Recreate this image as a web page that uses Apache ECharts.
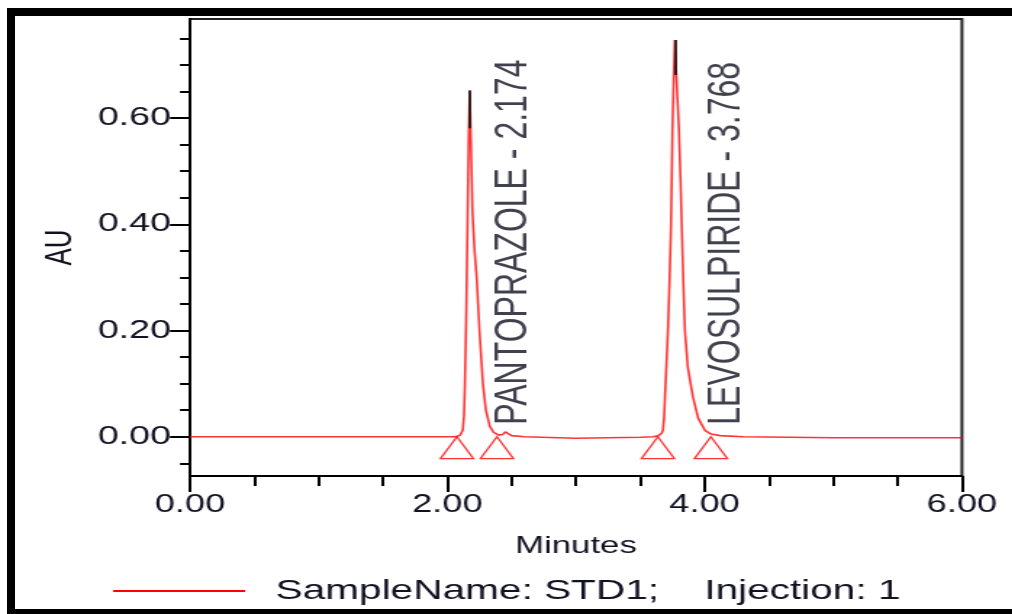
<!DOCTYPE html>
<html><head><meta charset="utf-8">
<script src="https://cdn.jsdelivr.net/npm/echarts@6/dist/echarts.min.js"></script>
<style>
html,body{margin:0;padding:0;background:#fff;width:1012px;height:614px;overflow:hidden;}
#wrap{position:absolute;left:0;top:0;width:1012px;height:614px;background:#fff;}
#chart{position:absolute;left:0;top:0;width:698px;height:614px;transform:scaleX(1.45);transform-origin:0 0;}
.bar{position:absolute;background:#000;}
</style></head><body>
<div id="wrap">
<div id="chart"></div>
<div class="bar" style="left:7px;top:8px;width:1005px;height:8px"></div>
<div class="bar" style="left:7px;top:8px;width:8px;height:606px"></div>
<div class="bar" style="left:7px;top:609px;width:1005px;height:5px"></div>
</div>
<script>
// ---- data ----
const timeMin = [0.00, 1.00, 2.00, 2.07, 2.10, 2.12, 2.13, 2.137, 2.148, 2.157, 2.166, 2.174,
  2.183, 2.196, 2.212, 2.228, 2.250, 2.277, 2.300, 2.330, 2.360, 2.400, 2.430, 2.450, 2.470, 2.500,
  2.600, 3.000, 3.500, 3.600, 3.640, 3.665, 3.676, 3.685, 3.692, 3.704, 3.715, 3.728, 3.738, 3.744,
  3.750, 3.760, 3.768, 3.780, 3.800, 3.813, 3.823, 3.835, 3.847, 3.870, 3.909, 3.950, 4.002, 4.050,
  4.120, 4.300, 5.000, 6.000];
const absorbance = [0.000, 0.000, 0.000, 0.000, 0.003, 0.012, 0.040, 0.100, 0.240, 0.400, 0.560, 0.652,
  0.560, 0.420, 0.350, 0.300, 0.200, 0.100, 0.050, 0.020, 0.008, 0.003, 0.004, 0.009, 0.007, 0.002,
  0.000, -0.003, -0.001, 0.000, 0.002, 0.006, 0.012, 0.035, 0.075, 0.140, 0.200, 0.300, 0.390, 0.480,
  0.580, 0.680, 0.747, 0.680, 0.580, 0.480, 0.390, 0.290, 0.200, 0.130, 0.075, 0.035, 0.012, 0.005,
  0.002, 0.000, -0.002, -0.002];
const peakNames = ['PANTOPRAZOLE - 2.174', 'LEVOSULPIRIDE - 3.768'];
const peakTimes = [2.174, 3.768];
const apexTop = [0.652, 0.747];
const apexMarkBottom = [0.581, 0.681];
const markerTimes = [2.075, 2.386, 3.637, 4.049];
const markerLevel = [0, 0, 0, 0];
const yTickLabels = [0.00, 0.20, 0.40, 0.60];
const yMinorTicks = [-0.05, 0.00, 0.05, 0.10, 0.15, 0.20, 0.25, 0.30, 0.35, 0.40, 0.45, 0.50, 0.55, 0.60, 0.65, 0.70, 0.75];
const xTickLabels = [0.00, 2.00, 4.00, 6.00];
const seriesName = 'SampleName: STD1;    Injection: 1';

const FONT = "'Liberation Sans', Arial, sans-serif";
const INK = '#111122';
const chart = echarts.init(document.getElementById('chart'));

const lineData = timeMin.map((t, i) => [t, absorbance[i]]);
const apexLines = peakTimes.map((t, i) => [{coord: [t, apexMarkBottom[i]]}, {coord: [t, apexTop[i]]}]);
const labelOffsets = [[12, 30], [12, 36]];

chart.setOption({
  animation: false,
  textStyle: {fontFamily: FONT},
  grid: {left: 131, right: 34.6, top: 19, bottom: 138, show: true, borderColor: '#222', borderWidth: 2, backgroundColor: 'transparent'},
  legend: {
    show: true, data: [{name: seriesName, icon: 'rect'}], left: 78, top: 577, padding: 0,
    itemWidth: 91, itemHeight: 2,
    textStyle: {fontSize: 28, color: INK, fontFamily: FONT, padding: [0, 0, 0, 16]}
  },
  xAxis: {
    type: 'value', min: 0, max: 6, interval: 2,
    name: 'Minutes', nameLocation: 'middle', nameGap: 58,
    nameTextStyle: {fontSize: 24, color: INK, fontFamily: FONT},
    axisLine: {show: true, onZero: false, lineStyle: {color: '#000', width: 2}},
    axisTick: {show: true, length: 16, lineStyle: {color: '#000', width: 2}},
    minorTick: {show: true, splitNumber: 4, length: 10, lineStyle: {color: '#000', width: 2}},
    splitLine: {show: false}, minorSplitLine: {show: false},
    axisLabel: {show: true, fontSize: 25, color: INK, margin: 17, fontFamily: FONT,
      showMinLabel: true, showMaxLabel: true, formatter: v => v.toFixed(2)}
  },
  yAxis: [{
    type: 'value', min: -0.074, max: 0.7866, position: 'left',
    name: 'AU', nameLocation: 'middle', nameGap: 76,
    nameTextStyle: {fontSize: 26, color: INK, fontFamily: FONT},
    axisLine: {show: true, onZero: false, lineStyle: {color: '#000', width: 2}},
    axisTick: {show: true, length: 13.8, customValues: yTickLabels, lineStyle: {color: '#000', width: 2}},
    splitLine: {show: false},
    axisLabel: {show: true, fontSize: 26, color: INK, margin: 13, fontFamily: FONT,
      customValues: yTickLabels, formatter: v => v.toFixed(2), padding: [8, 0, 0, 0]}
  }, {
    type: 'value', min: -0.074, max: 0.7866, position: 'left', offset: 0,
    axisLine: {show: false},
    axisTick: {show: true, length: 6.9, customValues: yMinorTicks, lineStyle: {color: '#000', width: 2}},
    axisLabel: {show: false}, splitLine: {show: false}
  }],
  series: [{
    name: seriesName, type: 'line', data: lineData, yAxisIndex: 0,
    showSymbol: false, symbol: 'none', color: '#ff0000',
    lineStyle: {color: 'rgba(255,0,0,0.8)', width: 1.6},
    z: 3,
    markLine: {silent: true, symbol: 'none', label: {show: false},
      lineStyle: {color: '#111', width: 1.6, type: 'solid'}, data: apexLines, animation: false}
  }, {
    name: 'markers', type: 'scatter', yAxisIndex: 0,
    data: markerTimes.map((t, i) => [t, markerLevel[i]]),
    symbol: 'triangle', symbolSize: [22.8, 22], symbolOffset: [0, '50%'],
    itemStyle: {color: 'rgba(0,0,0,0)', borderColor: '#ff0000', borderWidth: 1.3},
    z: 4, silent: true
  }, {
    name: 'peakLabels', type: 'scatter', yAxisIndex: 0,
    data: peakTimes.map((t, i) => ({value: [t, 0], label: {offset: labelOffsets[i]}})),
    symbolSize: 0, silent: true, z: 5,
    label: {show: true, position: 'inside', rotate: 90, align: 'left', verticalAlign: 'middle',
      fontSize: 32, color: INK, fontFamily: FONT,
      formatter: p => peakNames[p.dataIndex]}
  }]
});
</script>
</body></html>
